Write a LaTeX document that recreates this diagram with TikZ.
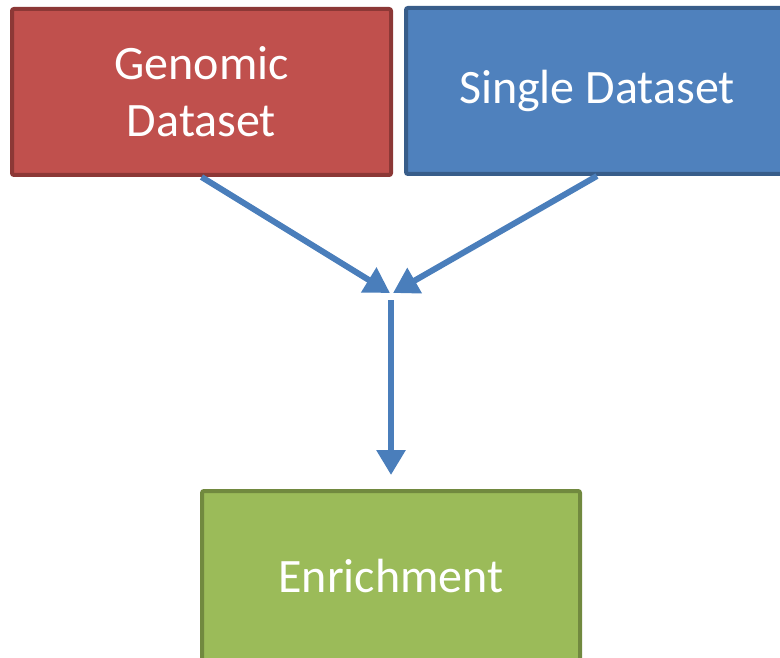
\documentclass[tikz,border=0pt]{standalone}
\usepackage{fontspec}
\setmainfont{Carlito}
\usetikzlibrary{arrows.meta}
\definecolor{redfill}{HTML}{C0504D}
\definecolor{redline}{HTML}{8C3836}
\definecolor{bluefill}{HTML}{4F81BD}
\definecolor{blueline}{HTML}{385D8A}
\definecolor{greenfill}{HTML}{9BBB59}
\definecolor{greenline}{HTML}{71893F}
\definecolor{arrowblue}{HTML}{4A7EBB}
\tikzset{
  box/.style={rectangle, rounded corners=2pt, line width=4pt, text=white,
    font=\fontsize{48}{57}\selectfont, align=center, inner sep=0pt},
  flow/.style={draw=arrowblue, line width=6pt,
    -{Triangle[width=28pt,length=25pt]}}
}
\begin{document}
\begin{tikzpicture}[x=1pt,y=-1pt]
  \clip (0,0) rectangle (780,658);
  \useasboundingbox (0,0) rectangle (780,658);
  \node[box, fill=redfill, draw=redline, minimum width=379pt, minimum height=166pt] (genomic) at (201.5,92) {Genomic\\Dataset};
  \node[box, fill=bluefill, draw=blueline, minimum width=382pt, minimum height=166pt] (single) at (597,91) {Single Dataset};
  \node[box, fill=greenfill, draw=greenline, minimum width=378pt, minimum height=176pt] (enrich) at (391,579) {};
  \node[text=white, font=\fontsize{48}{57}\selectfont, inner sep=0pt] (enrichlabel) at (391,576) {Enrichment};
  \coordinate (meetL) at (390,293);
  \coordinate (meetR) at (393,293);
  \coordinate (stem) at (391,300);
  \draw[flow] (genomic.south) -- (meetL);
  \draw[flow] (single.south) -- (meetR);
  \draw[flow, shorten >=14pt] (stem) -- (enrich.north);
\end{tikzpicture}
\end{document}
